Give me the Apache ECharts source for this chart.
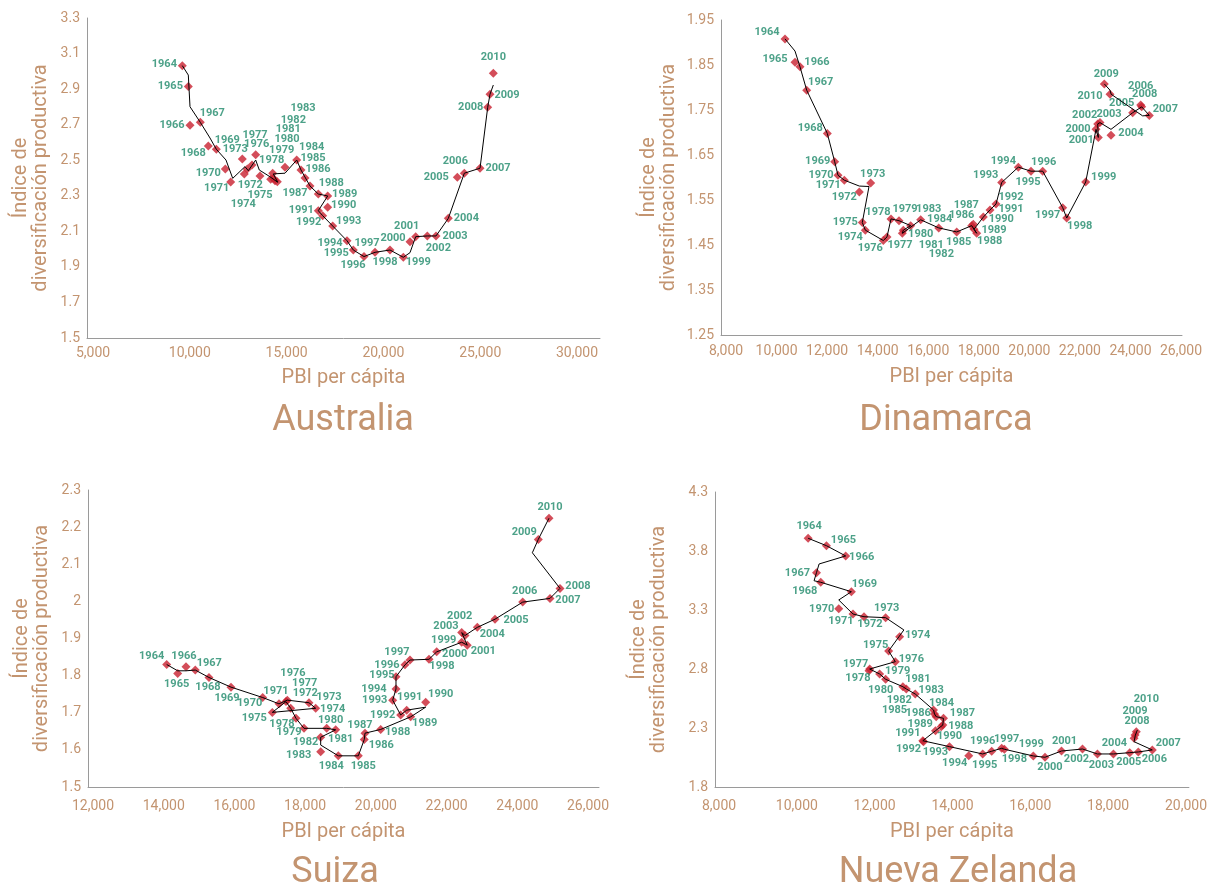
<!DOCTYPE html>
<html><head><meta charset="utf-8">
<script src="https://cdn.jsdelivr.net/npm/echarts@6/dist/echarts.min.js"></script>
<style>html,body{margin:0;padding:0;background:#fff}#c{width:1210px;height:890px}</style>
</head><body><div id="c"></div>
<script>
// ---------------- DATA ----------------
const years = [1964,1965,1966,1967,1968,1969,1970,1971,1972,1973,1974,1975,1976,1977,1978,1979,1980,1981,1982,1983,1984,1985,1986,1987,1988,1989,1990,1991,1992,1993,1994,1995,1996,1997,1998,1999,2000,2001,2002,2003,2004,2005,2006,2007,2008,2009,2010];

const ausGdp = [9613,9923,10010,10542,10955,11368,11833,12112,12815,12711,12970,13626,13403,13212,14282,14178,14400,14519,14313,14917,15521,15743,15950,16208,16636,17122,17122,16636,16864,17380,18119,18444,18997,19565,20340,21027,21373,21667,22267,22716,23352,23816,24178,24989,25386,25505,25676];
const ausIdx = [3.032,2.914,2.697,2.713,2.580,2.562,2.451,2.378,2.423,2.507,2.451,2.411,2.531,2.473,2.427,2.393,2.385,2.379,2.398,2.460,2.501,2.445,2.400,2.355,2.310,2.299,2.235,2.216,2.188,2.130,2.047,1.995,1.958,1.982,1.995,1.954,2.042,2.070,2.074,2.074,2.173,2.404,2.427,2.455,2.798,2.871,2.989];
const ausLineGdp = [9613,9923,10010,10542,11043,11368,11870,12216,12851,13021,13403,13589,14142,14540,14313,14917,15521,15743,16208,16636,17122,16636,16864,17380,18119,18444,18997,19565,20340,21027,21373,21667,22267,22716,23352,24178,24989,25386,25505,25676];
const ausLineIdx = [3.032,2.979,2.801,2.713,2.625,2.562,2.501,2.398,2.464,2.441,2.501,2.445,2.407,2.376,2.423,2.427,2.501,2.445,2.355,2.310,2.299,2.216,2.188,2.130,2.047,1.995,1.958,1.982,1.995,1.954,1.980,2.070,2.074,2.074,2.173,2.427,2.455,2.798,2.871,2.923];
const ausXTicks = [5000,10000,15000,20000,25000,30000];

const denGdp = [10334,10730,10927,11192,12007,12300,12431,12680,13273,13724,13511,13392,14223,14369,14527,14844,15307,15014,14975,15702,16415,17127,17720,17783,17918,17811,18179,18444,18681,18907,19564,20066,20529,21320,21478,22230,22637,22728,22704,22795,23230,24089,24445,24746,24405,22965,23191];
const denIdx = [1.908,1.856,1.846,1.794,1.698,1.635,1.605,1.594,1.568,1.588,1.483,1.500,1.460,1.468,1.508,1.504,1.493,1.483,1.476,1.506,1.488,1.479,1.493,1.496,1.476,1.485,1.512,1.528,1.541,1.589,1.623,1.614,1.614,1.533,1.510,1.590,1.707,1.689,1.719,1.722,1.694,1.744,1.757,1.738,1.761,1.808,1.785];
const denLineGdp = [10334,10730,10927,11192,12007,12300,12431,12680,13273,13657,13392,13511,14223,14369,14527,14844,15307,15014,14975,15702,16415,17127,17720,17783,17918,17811,18179,18444,18681,18907,19564,20066,20529,21320,21478,22230,22637,22728,22704,22795,23230,24089,24445,24746,24480,23237,23191,22965];
const denLineIdx = [1.908,1.881,1.846,1.794,1.698,1.635,1.605,1.594,1.581,1.580,1.500,1.483,1.460,1.468,1.508,1.504,1.493,1.483,1.476,1.506,1.488,1.479,1.493,1.496,1.476,1.485,1.512,1.528,1.541,1.589,1.623,1.614,1.614,1.533,1.510,1.590,1.707,1.689,1.719,1.722,1.707,1.744,1.757,1.738,1.737,1.785,1.794,1.808];
const denXTicks = [8000,10000,12000,14000,16000,18000,20000,22000,24000,26000];

const suiGdp = [14084,14395,14630,14893,15280,15903,16799,17260,17495,18108,18298,17071,17458,17591,17741,17967,18609,18864,18439,18439,18937,19503,19672,19692,20136,20985,21409,20872,20702,20476,20569,20569,20823,20965,21502,21720,22427,22585,22427,22520,22868,23369,24152,24924,25207,24593,24896];
const suiIdx = [1.830,1.806,1.824,1.815,1.795,1.769,1.741,1.724,1.734,1.727,1.712,1.701,1.730,1.712,1.685,1.658,1.658,1.654,1.634,1.595,1.584,1.584,1.628,1.645,1.655,1.689,1.728,1.707,1.694,1.734,1.764,1.797,1.829,1.842,1.844,1.864,1.890,1.882,1.916,1.908,1.930,1.952,1.998,2.008,2.035,2.167,2.224];
const suiLineGdp = [14084,14395,14630,14893,15280,15903,16799,17260,17495,18108,18298,17071,17458,17591,17741,17967,18609,18864,18439,18439,18937,19503,19672,19692,20136,20985,21409,20872,20702,20476,20569,20569,20823,20965,21502,21720,22427,22585,22427,22520,22868,23369,24152,24924,25207,24425,24593,24896];
const suiLineIdx = [1.830,1.813,1.813,1.815,1.795,1.769,1.741,1.724,1.734,1.727,1.712,1.701,1.730,1.712,1.685,1.658,1.658,1.654,1.634,1.613,1.584,1.584,1.628,1.645,1.655,1.689,1.715,1.707,1.694,1.734,1.764,1.797,1.829,1.842,1.844,1.864,1.890,1.882,1.916,1.908,1.930,1.952,1.998,2.008,2.035,2.131,2.167,2.224];
const suiXTicks = [12000,14000,16000,18000,20000,22000,24000,26000];

const nzGdp = [10290,10761,11256,10505,10615,11402,11077,11443,11726,12282,12641,12359,12531,11872,11854,12128,12282,12725,12813,13043,13513,13538,13582,13769,13751,13710,13564,13238,13256,13923,14418,14777,15007,15264,15333,16077,16377,16802,17341,17725,18136,18556,18776,19135,18666,18692,18725];
const nzIdx = [3.908,3.845,3.758,3.616,3.535,3.455,3.311,3.266,3.243,3.235,3.074,2.953,2.862,2.800,2.786,2.758,2.713,2.650,2.631,2.588,2.453,2.419,2.396,2.382,2.325,2.311,2.277,2.192,2.184,2.142,2.065,2.080,2.103,2.128,2.120,2.063,2.052,2.105,2.122,2.080,2.080,2.091,2.097,2.114,2.213,2.241,2.269];
const nzLineGdp = [10290,10761,11256,10572,10505,10443,10615,11402,11077,11443,11726,12282,12751,12359,12531,11872,11854,12128,12282,12725,12813,13043,13513,13538,13582,13769,13751,13710,13564,13238,13256,13923,14777,15007,15264,15333,16077,16377,16802,17341,17725,18136,18556,18776,19135,18666,18700,18751];
const nzLineIdx = [3.908,3.845,3.758,3.690,3.616,3.548,3.535,3.455,3.385,3.266,3.243,3.235,3.131,2.953,2.862,2.800,2.786,2.758,2.713,2.650,2.631,2.588,2.453,2.419,2.396,2.382,2.325,2.311,2.277,2.192,2.184,2.142,2.080,2.103,2.128,2.120,2.063,2.052,2.105,2.122,2.080,2.080,2.091,2.097,2.114,2.184,2.240,2.283];
const nzXTicks = [8000,10000,12000,14000,16000,18000,20000];

// ---------------- STYLE: per-label nudges (px) ----------------
const ausNudge = [[-18,-1],[-18,0],[-18,0],[12,-9],[-15,7],[11,-9],[-17,4],[-14,6],[6,11],[-7,-10],[-4,35],[0,19],[1,-10],[3,-30],[-1,-13],[11,-29],[12,-41],[11,-52],[20,-58],[18,-59],[15,-13],[12,-12],[13,-9],[-15,7],[13,-11],[17,-2],[16,-2],[-17,0],[-14,7],[16,-5],[-17,2],[-17,3],[-11,9],[-8,-9],[-5,12],[15,5],[-17,-3],[-9,-10],[11,12],[19,0],[18,0],[-21,0],[-9,-12],[18,0],[-17,0],[17,1],[0,-16]];
const denNudge = [[-18,-7],[-20,-3],[17,-5],[14,-8],[-17,-5],[-17,-1],[-17,0],[-16,5],[-15,5],[2,-9],[-15,7],[-17,0],[-13,8],[13,8],[-13,-7],[6,-11],[10,9],[28,15],[39,21],[8,-11],[1,-9],[2,10],[-10,-10],[-7,-19],[13,8],[20,1],[18,2],[21,-1],[15,-7],[-16,-7],[-15,-6],[-3,11],[1,-9],[-15,8],[13,8],[18,-5],[-18,0],[-17,3],[-13,-9],[9,-8],[20,-2],[-11,-9],[-1,-21],[16,-6],[4,-11],[2,-10],[-20,2]];
const suiNudge = [[-15,-8],[-1,11],[-2,-10],[14,-7],[-1,10],[-4,11],[-13,6],[-3,-13],[18,-7],[20,-5],[17,1],[-18,6],[7,-28],[14,-25],[-14,6],[-15,4],[4,-8],[5,9],[-15,5],[-22,4],[-7,10],[5,10],[17,6],[-5,-8],[17,3],[14,6],[15,-8],[3,-13],[-18,0],[-18,0],[-22,0],[-14,-1],[-18,0],[-13,-8],[13,7],[7,-12],[-7,12],[16,6],[-2,-16],[-19,-9],[15,7],[21,1],[2,-11],[18,2],[18,-2],[-14,-7],[1,-11]];
const nzNudge = [[1,-12],[17,-5],[16,1],[-19,1],[-16,9],[13,-7],[-17,1],[-12,7],[6,8],[1,-9],[18,-1],[-13,-6],[16,-2],[-14,-5],[-11,8],[18,-3],[-5,11],[15,-7],[-7,11],[16,-4],[8,-7],[-40,-4],[-18,-3],[19,-5],[18,1],[-21,-2],[14,6],[-15,-7],[-15,8],[-14,6],[-14,8],[2,11],[-9,-10],[5,-9],[10,10],[-2,-12],[5,10],[3,-10],[-6,10],[4,11],[1,-11],[-1,10],[16,7],[16,-7],[3,-17],[0,-24],[10,-32]];

const TAN = '#c39470', GREEN = '#1f8a6a', RED = '#c8202f', AXIS = '#9a9a9a';
const FONT = 'Roboto';

const panels = [
  {name:'Australia', gdp:ausGdp, idx:ausIdx, lg:ausLineGdp, li:ausLineIdx, xt:ausXTicks, nudge:ausNudge,
   grid:{left:87,top:18,width:513,height:320}, xmin:4690, xmax:31186, ymin:1.5, ymax:3.3, yint:0.2, dec:1,
   yGap:36, xMargin:8, xGap:30, tx:343, ty:421},
  {name:'Dinamarca', gdp:denGdp, idx:denIdx, lg:denLineGdp, li:denLineIdx, xt:denXTicks, nudge:denNudge,
   grid:{left:721,top:20,width:461,height:315}, xmin:7802, xmax:26039, ymin:1.25, ymax:1.95, yint:0.1, dec:2,
   yGap:42, xMargin:9, xGap:32, tx:946, ty:421},
  {name:'Suiza', gdp:suiGdp, idx:suiIdx, lg:suiLineGdp, li:suiLineIdx, xt:suiXTicks, nudge:suiNudge,
   grid:{left:88,top:490,width:511,height:297}, xmin:11859, xmax:26310, ymin:1.5, ymax:2.3, yint:0.1, dec:1,
   yGap:36, xMargin:12, xGap:35, tx:335, ty:873},
  {name:'Nueva Zelanda', gdp:nzGdp, idx:nzIdx, lg:nzLineGdp, li:nzLineIdx, xt:nzXTicks, nudge:nzNudge,
   grid:{left:715,top:492,width:475,height:295}, xmin:7897, xmax:20076, ymin:1.8, ymax:4.3, yint:0.5, dec:1,
   yGap:46, xMargin:12, xGap:35, tx:958, ty:873}
];

const grids = [], xAxes = [], yAxes = [], series = [], graphics = [];
panels.forEach((p, i) => {
  grids.push(Object.assign({containLabel:false}, p.grid));
  xAxes.push({
    type:'value', gridIndex:i, min:p.xmin, max:p.xmax,
    name:'PBI per cápita', nameLocation:'middle', nameGap:p.xGap,
    nameTextStyle:{color:TAN, fontSize:20, fontFamily:FONT},
    axisLine:{show:true, lineStyle:{color:AXIS, width:1}},
    axisTick:{show:false},
    splitLine:{show:false},
    axisLabel:{customValues:p.xt, color:TAN, fontSize:14, fontFamily:FONT, margin:p.xMargin,
      formatter:v => Number(v).toLocaleString('en-US')}
  });
  yAxes.push({
    type:'value', gridIndex:i, min:p.ymin, max:p.ymax, interval:p.yint,
    name:'Índice de\ndiversificación productiva', nameLocation:'middle', nameGap:p.yGap, nameRotate:90,
    nameTextStyle:{color:TAN, fontSize:20, fontFamily:FONT, lineHeight:20},
    axisLine:{show:true, lineStyle:{color:AXIS, width:1}},
    axisTick:{show:false},
    splitLine:{show:false},
    axisLabel:{color:TAN, fontSize:14, fontFamily:FONT, margin:7,
      formatter:v => { const s = Number(v).toFixed(p.dec); return (p.name==='Suiza' && s==='2.0') ? '2' : s; }}
  });
  series.push({
    type:'scatter', xAxisIndex:i, yAxisIndex:i, z:2,
    symbol:'diamond', symbolSize:9,
    itemStyle:{color:RED},
    label:{show:true, position:'inside', color:GREEN, fontSize:11, fontWeight:'bold', fontFamily:FONT,
      formatter:q => String(years[q.dataIndex])},
    data: years.map((yr, k) => ({value:[p.gdp[k], p.idx[k]], label:{offset:p.nudge[k]}}))
  });
  series.push({
    type:'line', xAxisIndex:i, yAxisIndex:i, z:3,
    symbol:'none', lineStyle:{color:'#000', width:1},
    data: p.lg.map((v, k) => [v, p.li[k]])
  });
  graphics.push({type:'text', x:p.tx, y:p.ty,
    style:{text:p.name, fill:TAN, font:'36px ' + FONT, align:'center', verticalAlign:'middle'}});
});

const chart = echarts.init(document.getElementById('c'), null, {renderer:'canvas'});
chart.setOption({
  animation:false,
  backgroundColor:'#fff',
  grid:grids, xAxis:xAxes, yAxis:yAxes, series:series, graphic:graphics
});
</script>
</body></html>
